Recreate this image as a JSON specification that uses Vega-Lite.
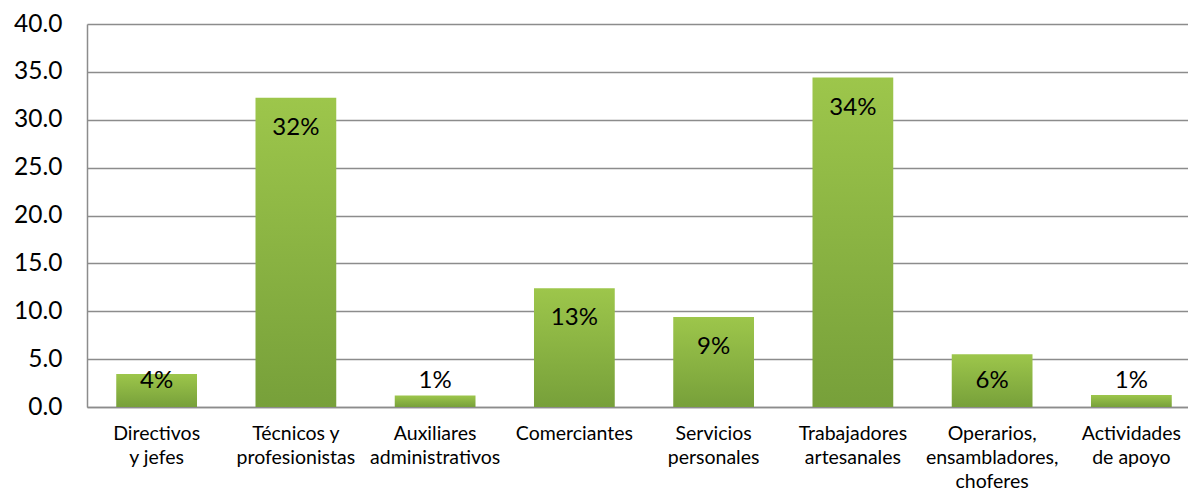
{
  "$schema": "https://vega.github.io/schema/vega-lite/v6.json",
  "width": 1101,
  "height": 383,
  "autosize": {"type": "none"},
  "padding": {"left": 87, "top": 24, "right": 0, "bottom": 90},
  "background": "white",
  "config": {
    "view": {"stroke": null},
    "font": "Lato"
  },
  "data": {
    "values": [
      {"categoria": "Directivos y jefes", "valor": 3.45, "etiqueta": "4%"},
      {"categoria": "Técnicos y profesionistas", "valor": 32.3, "etiqueta": "32%"},
      {"categoria": "Auxiliares administrativos", "valor": 1.2, "etiqueta": "1%"},
      {"categoria": "Comerciantes", "valor": 12.4, "etiqueta": "13%"},
      {"categoria": "Servicios personales", "valor": 9.4, "etiqueta": "9%"},
      {"categoria": "Trabajadores artesanales", "valor": 34.4, "etiqueta": "34%"},
      {"categoria": "Operarios, ensambladores, choferes", "valor": 5.5, "etiqueta": "6%"},
      {"categoria": "Actividades de apoyo", "valor": 1.25, "etiqueta": "1%"}
    ]
  },
  "encoding": {
    "x": {
      "field": "categoria",
      "type": "nominal",
      "sort": null,
      "scale": {"range": [0, 1114], "paddingInner": 0.42, "paddingOuter": 0.21},
      "axis": {
        "title": null,
        "labelAngle": 0,
        "ticks": false,
        "domainColor": "#8c8c8c",
        "domainWidth": 1.5,
        "labelFont": "Lato",
        "labelFontSize": 19.5,
        "labelColor": "#000000",
        "labelPadding": 17,
        "labelLineHeight": 24,
        "labelLimit": 300,
        "labelExpr": "({'Directivos y jefes': ['Directivos','y jefes'], 'Técnicos y profesionistas': ['Técnicos y','profesionistas'], 'Auxiliares administrativos': ['Auxiliares','administrativos'], 'Comerciantes': 'Comerciantes', 'Servicios personales': ['Servicios','personales'], 'Trabajadores artesanales': ['Trabajadores','artesanales'], 'Operarios, ensambladores, choferes': ['Operarios,','ensambladores,','choferes'], 'Actividades de apoyo': ['Actividades','de apoyo']})[datum.value]"
      }
    }
  },
  "layer": [
    {
      "mark": {
        "type": "bar",
        "color": {
          "gradient": "linear",
          "x1": 0, "y1": 0, "x2": 0, "y2": 1,
          "stops": [
            {"offset": 0, "color": "#9dc64b"},
            {"offset": 1, "color": "#77a03a"}
          ]
        }
      },
      "encoding": {
        "y": {
          "field": "valor",
          "type": "quantitative",
          "scale": {"domain": [0, 40], "nice": false},
          "axis": {
            "title": null,
            "values": [0, 5, 10, 15, 20, 25, 30, 35, 40],
            "format": ".1f",
            "ticks": false,
            "grid": true,
            "gridColor": "#8c8c8c",
            "gridWidth": 1.5,
            "domainColor": "#8c8c8c",
            "domainWidth": 1.5,
            "labelFont": "Lato",
            "labelFontSize": 24.5,
            "labelColor": "#000000",
            "labelPadding": 25
          }
        }
      }
    },
    {
      "transform": [{"calculate": "max(datum.valor - 3.13, 2.7)", "as": "posEtiqueta"}],
      "mark": {"type": "text", "font": "Lato", "fontSize": 24, "color": "#000000", "baseline": "middle", "align": "center"},
      "encoding": {
        "y": {"field": "posEtiqueta", "type": "quantitative", "scale": {"domain": [0, 40], "nice": false}},
        "text": {"field": "etiqueta"}
      }
    }
  ]
}
